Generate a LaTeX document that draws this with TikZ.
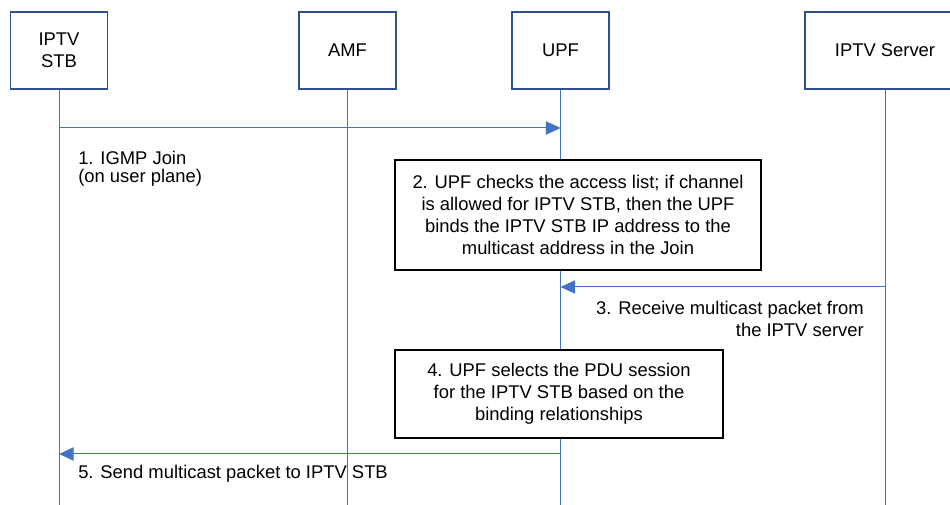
\documentclass[tikz,border=0pt]{standalone}
\usepackage{fontspec}
\setmainfont{Liberation Sans}
\usetikzlibrary{arrows.meta,positioning}
\definecolor{lineblue}{HTML}{4472C4}
\definecolor{edgeblue}{HTML}{2F528F}
\begin{document}
\begin{tikzpicture}
   [x=0.75pt, y=-0.75pt,
    every node/.style={font=\fontsize{13.8}{16.5}\selectfont},
    entity node/.style={draw=edgeblue, line width=1.1pt, minimum width=72.75pt, minimum height=57.75pt, align=center, inner sep=0pt},
    note node/.style={draw, fill=white, line width=1.1pt, align=center, inner sep=0pt},
    step label/.style={inner sep=0pt},
    life line/.style={lineblue, line width=0.75pt},
    msg/.style={lineblue, line width=0.75pt, -{Triangle[length=11pt,width=10pt]}}]
   \useasboundingbox (0,0) rectangle (950,505);
   \clip (0,0) rectangle (950,505);
   \node[entity node] (stb) at (59,50.5) {IPTV\\STB};
   \node[entity node] (amf) at (347.5,50.5) {AMF};
   \node[entity node] (upf) at (560.5,50.5) {UPF};
   \node[entity node, minimum width=120pt] (srv) at (885,50.5) {IPTV Server};

   \coordinate (bottom) at (0,505);
   \foreach \p in {stb,amf,upf,srv}
      \draw[life line] (\p.south) -- (\p |- bottom);

   \coordinate (m1) at (0,128);
   \draw[msg] (stb |- m1) -- (upf |- m1);
   \node[step label, anchor=north west, align=left, font=\fontsize{13.8}{13.8}\selectfont] (join) at (78,151) {1. IGMP Join\\(on user plane)};

   \node[note node, minimum width=274.5pt, minimum height=82.5pt] (check) at (578,215)
      {2. UPF checks the access list; if channel\\is allowed for IPTV STB, then the UPF\\binds the IPTV STB IP address to the\\multicast address in the Join};

   \coordinate (m3) at (0,287);
   \draw[msg] (srv |- m3) -- (upf |- m3);
   \node[step label, anchor=north east, align=right] (recv) at (864,301) {3. Receive multicast packet from\\the IPTV server};

   \node[note node, minimum width=246pt, minimum height=66pt] (select) at (559,394)
      {4. UPF selects the PDU session\\for the IPTV STB based on the\\binding relationships};

   \coordinate (m5) at (0,454);
   \draw[msg] (upf |- m5) -- (stb |- m5);
   \node[step label, anchor=west] (send) at (78,474) {5. Send multicast packet to IPTV STB};
\end{tikzpicture}
\end{document}
